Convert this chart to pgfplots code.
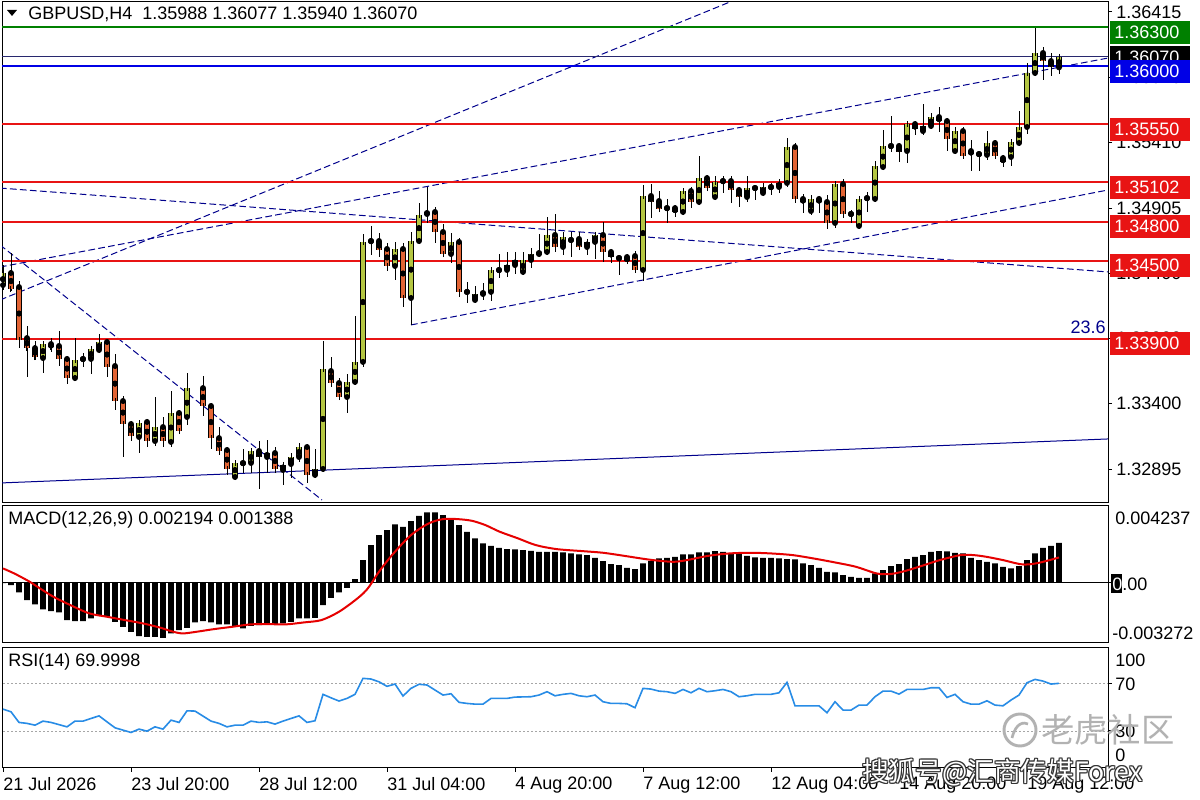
\documentclass[border=0pt]{standalone}
\usepackage{pgfplots}
\pgfplotsset{compat=1.18}
\usepackage{pgfplotstable}
\usepackage{fontspec}
\setmainfont{Liberation Sans}
\newfontfamily\cjk{Noto Sans CJK SC}
\definecolor{bull}{RGB}{180,198,66}
\definecolor{bear}{RGB}{226,100,52}
\definecolor{lvlred}{RGB}{232,20,20}
\definecolor{lvlgreen}{RGB}{0,128,0}
\definecolor{lvlblue}{RGB}{0,0,230}
\definecolor{navy}{RGB}{0,0,140}
\definecolor{bidline}{RGB}{40,40,110}
\definecolor{rsiblue}{RGB}{40,140,230}
\definecolor{macdred}{RGB}{230,0,0}
\newcommand\mtfont{\fontsize{13.5}{15}\selectfont}

\pgfplotstableread{
i O H L C
0 1.34312 1.34466 1.34274 1.34405
1 1.34405 1.34559 1.34266 1.34282
2 1.34297 1.34343 1.33827 1.33889
3 1.33904 1.33997 1.33604 1.33827
4 1.33827 1.33881 1.33735 1.33758
5 1.33750 1.33881 1.33635 1.33858
6 1.33858 1.33904 1.33797 1.33835
7 1.33843 1.33958 1.33689 1.33743
8 1.33743 1.33758 1.33550 1.33596
9 1.33596 1.33904 1.33581 1.33735
10 1.33743 1.33789 1.33681 1.33743
11 1.33743 1.33827 1.33627 1.33820
12 1.33812 1.33935 1.33797 1.33874
13 1.33874 1.33889 1.33604 1.33681
14 1.33689 1.33781 1.33350 1.33419
15 1.33419 1.33458 1.32988 1.33242
16 1.33242 1.33258 1.33111 1.33150
17 1.33142 1.33258 1.33019 1.33250
18 1.33258 1.33273 1.33065 1.33111
19 1.33111 1.33450 1.33073 1.33219
20 1.33219 1.33296 1.33065 1.33111
21 1.33104 1.33496 1.33065 1.33327
22 1.33327 1.33335 1.33173 1.33188
23 1.33296 1.33635 1.33235 1.33519
25 1.33519 1.33612 1.33304 1.33381
26 1.33381 1.33404 1.33050 1.33134
27 1.33134 1.33219 1.33004 1.33034
28 1.33042 1.33050 1.32850 1.32896
29 1.32834 1.32950 1.32826 1.32942
30 1.32942 1.33050 1.32865 1.32942
31 1.32942 1.33050 1.32865 1.33034
32 1.33034 1.33111 1.32742 1.32988
33 1.32988 1.33119 1.32865 1.33019
34 1.33019 1.33065 1.32865 1.32896
35 1.32888 1.32942 1.32773 1.32927
36 1.32934 1.33019 1.32826 1.32988
37 1.32988 1.33096 1.32950 1.33065
38 1.33065 1.33073 1.32788 1.32850
39 1.32850 1.33050 1.32826 1.32896
40 1.32896 1.33881 1.32880 1.33666
41 1.33650 1.33758 1.33527 1.33558
42 1.33558 1.33596 1.33427 1.33450
43 1.33450 1.33627 1.33327 1.33566
44 1.33566 1.34074 1.33550 1.33720
45 1.33720 1.34705 1.33681 1.34644
46 1.34651 1.34767 1.34544 1.34651
47 1.34651 1.34713 1.34528 1.34582
48 1.34590 1.34636 1.34420 1.34459
49 1.34459 1.34644 1.34351 1.34590
50 1.34590 1.34636 1.34143 1.34212
51 1.34212 1.34721 1.34005 1.34651
52 1.34651 1.34944 1.34636 1.34852
53 1.34859 1.35067 1.34790 1.34875
54 1.34875 1.34913 1.34636 1.34721
55 1.34721 1.34782 1.34528 1.34551
56 1.34551 1.34713 1.34482 1.34644
57 1.34644 1.34674 1.34220 1.34259
58 1.34259 1.34336 1.34174 1.34259
59 1.34197 1.34305 1.34182 1.34243
60 1.34243 1.34328 1.34197 1.34259
61 1.34259 1.34443 1.34189 1.34428
62 1.34428 1.34551 1.34366 1.34428
63 1.34428 1.34567 1.34374 1.34466
64 1.34466 1.34567 1.34397 1.34505
65 1.34413 1.34567 1.34390 1.34505
66 1.34505 1.34597 1.34443 1.34551
67 1.34551 1.34705 1.34528 1.34567
68 1.34567 1.34836 1.34551 1.34698
69 1.34698 1.34859 1.34567 1.34605
70 1.34605 1.34721 1.34544 1.34682
71 1.34659 1.34721 1.34528 1.34659
72 1.34667 1.34721 1.34582 1.34605
73 1.34605 1.34667 1.34544 1.34644
74 1.34644 1.34721 1.34513 1.34698
75 1.34698 1.34798 1.34490 1.34567
76 1.34567 1.34590 1.34482 1.34528
77 1.34520 1.34544 1.34390 1.34520
78 1.34528 1.34544 1.34490 1.34497
79 1.34536 1.34574 1.34420 1.34428
80 1.34428 1.35083 1.34343 1.34998
81 1.34998 1.35090 1.34828 1.34952
82 1.34959 1.35036 1.34890 1.34898
83 1.34905 1.34975 1.34790 1.34905
84 1.34905 1.34913 1.34836 1.34875
85 1.34875 1.35052 1.34852 1.35036
86 1.35036 1.35067 1.34905 1.34952
87 1.34952 1.35306 1.34936 1.35136
88 1.35136 1.35152 1.35044 1.35059
89 1.34990 1.35152 1.34975 1.35106
90 1.35113 1.35152 1.35021 1.35113
91 1.35113 1.35152 1.34944 1.35044
92 1.35044 1.35059 1.34913 1.34990
93 1.34990 1.35152 1.34952 1.35059
94 1.35059 1.35083 1.34967 1.35059
95 1.35021 1.35098 1.35006 1.35067
96 1.35067 1.35098 1.35006 1.35067
97 1.35067 1.35129 1.35021 1.35098
98 1.35098 1.35444 1.35067 1.35375
99 1.35375 1.35406 1.34944 1.34975
100 1.34975 1.35013 1.34867 1.34952
101 1.34882 1.35006 1.34852 1.34975
102 1.34975 1.34990 1.34867 1.34952
103 1.34952 1.35006 1.34744 1.34790
104 1.34790 1.35106 1.34751 1.35090
105 1.35090 1.35129 1.34828 1.34859
106 1.34859 1.34890 1.34790 1.34859
107 1.34767 1.34982 1.34759 1.34975
108 1.34982 1.35029 1.34875 1.34982
109 1.34975 1.35267 1.34967 1.35229
110 1.35221 1.35506 1.35198 1.35383
111 1.35383 1.35614 1.35337 1.35383
112 1.35383 1.35391 1.35260 1.35337
113 1.35344 1.35568 1.35252 1.35552
114 1.35552 1.35575 1.35468 1.35514
115 1.35498 1.35706 1.35468 1.35537
116 1.35537 1.35637 1.35521 1.35606
117 1.35606 1.35683 1.35491 1.35575
118 1.35575 1.35598 1.35344 1.35437
119 1.35344 1.35529 1.35337 1.35498
120 1.35498 1.35529 1.35298 1.35306
121 1.35344 1.35429 1.35190 1.35321
122 1.35321 1.35337 1.35190 1.35321
123 1.35314 1.35498 1.35275 1.35406
124 1.35406 1.35414 1.35283 1.35306
125 1.35290 1.35298 1.35221 1.35260
126 1.35298 1.35421 1.35229 1.35414
127 1.35406 1.35652 1.35398 1.35529
128 1.35529 1.36022 1.35475 1.35945
129 1.35945 1.36291 1.35937 1.36099
130 1.36099 1.36145 1.35891 1.36037
131 1.36037 1.36099 1.35922 1.35991
132 1.35988 1.36077 1.35940 1.36070
}\candles

\pgfplotstableread{
i v
0 -0.00002
1 -0.000126
2 -0.000528
3 -0.000948
4 -0.001184
5 -0.001458
6 -0.001551
7 -0.001622
8 -0.002044
9 -0.002099
10 -0.002099
11 -0.001951
12 -0.001808
13 -0.001863
14 -0.002137
15 -0.002411
16 -0.002685
17 -0.002921
18 -0.002959
19 -0.002959
20 -0.003014
21 -0.002773
22 -0.002592
23 -0.002466
24 -0.002170
25 -0.002099
26 -0.002170
27 -0.002280
28 -0.002280
29 -0.002411
30 -0.002499
31 -0.002356
32 -0.002318
33 -0.002280
34 -0.002280
35 -0.002225
36 -0.002137
37 -0.001951
38 -0.001951
39 -0.001916
40 -0.001222
41 -0.000822
42 -0.000528
43 -0.000274
44 0.000203
45 0.001244
46 0.002066
47 0.002614
48 0.002888
49 0.003200
50 0.003069
51 0.003381
52 0.003672
53 0.003858
54 0.003858
55 0.003710
56 0.003529
57 0.003162
58 0.002795
59 0.002433
60 0.002159
61 0.002028
62 0.001918
63 0.001847
64 0.001830
65 0.001792
66 0.001754
67 0.001700
68 0.001700
69 0.001700
70 0.001664
71 0.001609
72 0.001555
73 0.001518
74 0.001372
75 0.001189
76 0.001025
77 0.000970
78 0.000824
79 0.000751
80 0.001061
81 0.001189
82 0.001335
83 0.001372
84 0.001427
85 0.001555
86 0.001555
87 0.001664
88 0.001664
89 0.001737
90 0.001700
91 0.001609
92 0.001609
93 0.001481
94 0.001390
95 0.001372
96 0.001372
97 0.001335
98 0.001299
99 0.001281
100 0.001061
101 0.000970
102 0.000824
103 0.000605
104 0.000568
105 0.000422
106 0.000331
107 0.000276
108 0.000276
109 0.000513
110 0.000696
111 0.000915
112 0.001025
113 0.001299
114 0.001427
115 0.001518
116 0.001700
117 0.001737
118 0.001720
119 0.001646
120 0.001609
121 0.001372
122 0.001244
123 0.001153
124 0.001061
125 0.000879
126 0.000787
127 0.000915
128 0.001244
129 0.001609
130 0.001920
131 0.002029
132 0.002194
}\macd

\pgfplotstableread{
i s
0 0.000787
1.4 0.000513
3.2 0.000093
4.5 -0.000272
6.3 -0.000765
8.6 -0.001259
10.8 -0.001679
13 -0.001861
15.25 -0.002044
17.5 -0.002227
19.7 -0.002464
21 -0.002647
22.4 -0.002775
24.2 -0.002683
26.4 -0.002537
28.7 -0.002409
30.9 -0.002281
33.1 -0.002263
35.3 -0.002281
37.6 -0.002172
39.8 -0.002044
42 -0.001587
44.3 -0.000857
45.6 -0.000309
47 0.000605
48.7 0.001555
51 0.002614
53.2 0.003253
55 0.003491
56.8 0.003491
58.6 0.003399
60.3 0.003162
62.1 0.002797
64.4 0.002431
66.6 0.002066
69.2 0.001847
72.4 0.001737
75 0.001646
77.6 0.001481
80.3 0.001299
82.4 0.001189
84 0.001153
85.5 0.001244
88.2 0.001481
90.8 0.001609
93.4 0.001646
96 0.001609
98.7 0.001518
101.3 0.001335
104 0.001116
106.6 0.000879
109.2 0.000513
110.8 0.000477
112.4 0.000605
114.5 0.000879
117.1 0.001244
119.7 0.001518
121.3 0.001518
122.9 0.001427
125 0.001244
127.1 0.001025
128.2 0.001007
129.7 0.001116
132 0.001388
}\signal

\pgfplotstableread{
i r
0 48.4
1 46.2
2 37.3
3 36.5
4 35.0
5 38.4
6 37.3
8 33.6
9 38.4
10 38.4
12 42.8
13 37.8
14 32.8
16 28.9
17 31.7
18 30.0
19 33.6
20 31.7
21 39.2
22 37.3
23 47.0
24 46.8
26 38.4
27 36.5
28 33.6
29 35.0
30 35.0
31 38.4
32 37.3
33 37.8
34 35.9
35 38.4
37 42.8
38 37.3
39 38.7
40 60.8
41 57.9
42 55.2
43 57.4
44 60.8
45 74.2
46 73.6
47 71.3
48 67.5
49 69.4
50 59.4
51 65.8
52 69.2
53 68.6
54 64.4
55 60.2
56 61.3
57 54.1
58 53.2
59 52.6
60 52.6
61 57.4
63 57.4
64 58.5
66 58.8
67 60.2
68 63.0
69 59.6
70 60.8
71 61.6
72 59.6
73 58.8
74 60.2
75 54.6
76 53.2
77 53.2
78 52.9
79 49.6
80 65.8
81 65.2
82 63.5
83 63.0
84 61.6
85 64.9
86 62.1
87 65.8
88 63.0
89 63.8
90 64.9
91 63.0
92 58.8
93 59.6
94 60.8
95 60.8
96 60.8
97 62.1
98 70.8
99 51.2
100 51.2
102 51.2
103 45.4
104 54.6
105 47.6
106 47.6
107 51.8
108 51.8
109 58.8
110 63.5
111 63.5
112 61.0
113 64.9
114 64.9
115 64.9
116 66.3
117 66.3
118 58.2
119 60.8
120 54.6
121 52.6
122 52.6
123 55.4
124 51.8
125 51.2
126 56.0
127 60.2
128 70.5
129 73.3
130 71.9
131 69.4
132 70.0
}\rsi

\pgfplotsset{
  mtpanel/.style={
    anchor=south west, scale only axis, width=829.5pt,
    xmin=-0.125, xmax=138.125,
    axis line style={line width=0.75pt},
    tick style={black, line width=0.75pt},
    tick label style={font=\mtfont},
    scaled ticks=false,
  },
  navydash/.style={navy, line width=0.75pt, dash pattern=on 5pt off 2.5pt, forget plot},
}

\begin{document}
\begin{tikzpicture}
\useasboundingbox (0,0) rectangle (900pt,600pt);
\fill[white] (0,0) rectangle (900pt,600pt);

% ---------------- main price panel ----------------
\begin{axis}[mtpanel,
  at={(1.5pt,222.75pt)}, height=375.75pt,
  ymin=1.326339, ymax=1.364916,
  xtick=\empty,
  ytick={1.36415,1.35910,1.35410,1.34905,1.34400,1.33900,1.33400,1.32895},
  yticklabels={1.36415,1.35910,1.35410,1.34905,1.34400,1.33900,1.33400,1.32895},
  ytick pos=right, yticklabel pos=right,
  tick align=outside, major tick length=3pt,
  yticklabel style={anchor=west, inner sep=0pt, xshift=3pt},
]
% trend lines
\addplot[navydash] coordinates {(-0.375,1.34197) (90.875,1.36492)};
\addplot[navydash] coordinates {(-0.375,1.34451) (138.125,1.36060)};
\addplot[navydash] coordinates {(-0.375,1.34621) (39.875,1.32657)};
\addplot[navydash] coordinates {(-0.375,1.35059) (138.125,1.34413)};
\addplot[navydash] coordinates {(51,1.34005) (138.125,1.35044)};
\addplot[navy, line width=0.75pt, forget plot] coordinates {(-0.375,1.32788) (138.125,1.33127)};
% horizontal levels
\addplot[navy, line width=0.75pt, forget plot] coordinates {(-1,1.33889) (140,1.33889)};
\addplot[lvlred, line width=1.5pt, forget plot] coordinates {(-1,1.33900) (140,1.33900)};
\addplot[lvlred, line width=1.5pt, forget plot] coordinates {(-1,1.34500) (140,1.34500)};
\addplot[lvlred, line width=1.5pt, forget plot] coordinates {(-1,1.34800) (140,1.34800)};
\addplot[lvlred, line width=1.5pt, forget plot] coordinates {(-1,1.35102) (140,1.35102)};
\addplot[lvlred, line width=1.5pt, forget plot] coordinates {(-1,1.35550) (140,1.35550)};
\addplot[lvlgreen, line width=1.2pt, forget plot] coordinates {(-1,1.36300) (140,1.36300)};
\addplot[bidline, line width=0.6pt, forget plot] coordinates {(-1,1.36070) (140,1.36070)};
\addplot[lvlblue, line width=1.2pt, forget plot] coordinates {(-1,1.36000) (140,1.36000)};
% wicks
\addplot[only marks, mark=none, forget plot,
  error bars/.cd, y dir=both, y explicit, error mark=none,
  error bar style={black, line width=0.75pt}]
  table[x=i, y=O, y error plus expr=\thisrow{H}-\thisrow{O}, y error minus expr=\thisrow{O}-\thisrow{L}] {\candles};
% body outline
\addplot[only marks, mark=none, forget plot,
  error bars/.cd, y dir=both, y explicit, error mark=none,
  error bar style={black, line width=4.5pt}]
  table[x=i, y expr=(\thisrow{O}+\thisrow{C})/2, y error expr=abs(\thisrow{C}-\thisrow{O})/2] {\candles};
% bull bodies
\addplot[only marks, mark=none, forget plot,
  restrict expr to domain={\thisrow{C}-\thisrow{O}}{0:1},
  error bars/.cd, y dir=both, y explicit, error mark=-,
  error bar style={bull, line width=3pt},
  error mark options={black, line width=0.75pt, mark size=2.25pt}]
  table[x=i, y expr=(\thisrow{O}+\thisrow{C})/2, y error expr=abs(\thisrow{C}-\thisrow{O})/2] {\candles};
% bear bodies
\addplot[only marks, mark=none, forget plot,
  restrict expr to domain={\thisrow{C}-\thisrow{O}}{-1:-0.000001},
  error bars/.cd, y dir=both, y explicit, error mark=-,
  error bar style={bear, line width=3pt},
  error mark options={black, line width=0.75pt, mark size=2.25pt}]
  table[x=i, y expr=(\thisrow{O}+\thisrow{C})/2, y error expr=abs(\thisrow{C}-\thisrow{O})/2] {\candles};
\end{axis}

% ---------------- MACD panel ----------------
\begin{axis}[mtpanel,
  at={(1.5pt,118.125pt)}, height=102.75pt,
  ymin=-0.003272, ymax=0.004237,
  xtick=\empty, ytick=\empty,
]
\addplot[black, line width=0.75pt, forget plot] coordinates {(-1,0) (140,0)};
\addplot[ybar, bar width=4.4pt, bar shift=0pt, fill=black, draw=none, forget plot] table[x=i, y=v] {\macd};
\addplot[macdred, line width=1.5pt, smooth, forget plot] table[x=i, y=s] {\signal};
\end{axis}

% ---------------- RSI panel ----------------
\begin{axis}[mtpanel,
  at={(1.5pt,24.75pt)}, height=89.625pt,
  ymin=0, ymax=100,
  ytick=\empty,
  xtick={0,16,32,48,64,80,96,112,128},
  xticklabels={21 Jul 2026,23 Jul 20:00,28 Jul 12:00,31 Jul 04:00,4 Aug 20:00,7 Aug 12:00,12 Aug 04:00,14 Aug 20:00,19 Aug 12:00},
  xtick pos=left, tick align=outside, major tick length=3.5pt,
  xticklabel style={anchor=north west, inner sep=0pt, yshift=-4pt},
]
\addplot[black!35, line width=0.6pt, dash pattern=on 1.5pt off 1.5pt, forget plot] coordinates {(-1,70) (140,70)};
\addplot[black!35, line width=0.6pt, dash pattern=on 1.5pt off 1.5pt, forget plot] coordinates {(-1,30) (140,30)};
\addplot[rsiblue, line width=1.2pt, forget plot] table[x=i, y=r] {\rsi};
\end{axis}

% ---------------- annotations (pixel coordinates) ----------------
\begin{scope}[x=0.75pt, y=-0.75pt, shift={(0pt,600pt)}]
  \fill[black] (7,10) -- (17,10) -- (12,16) -- cycle;
  \node[anchor=west, inner sep=0pt, font=\mtfont] at (28,14.5) {GBPUSD,H4\ \ 1.35988 1.36077 1.35940 1.36070};
  \node[anchor=west, inner sep=0pt, font=\mtfont] at (8,520) {MACD(12,26,9) 0.002194 0.001388};
  \node[anchor=west, inner sep=0pt, font=\mtfont] at (8,662) {RSI(14) 69.9998};
  \node[anchor=east, inner sep=0pt, font=\mtfont, text=navy] at (1106,327) {23.6};
  \fill[black] (1110,46) rectangle (1190,68);
  \node[anchor=west, inner sep=0pt, font=\mtfont, text=white] at (1114,57) {1.36070};
  \fill[lvlgreen] (1110,21) rectangle (1190,44);
  \node[anchor=west, inner sep=0pt, font=\mtfont, text=white] at (1114,32.5) {1.36300};
  \fill[lvlblue] (1110,60) rectangle (1190,83);
  \node[anchor=west, inner sep=0pt, font=\mtfont, text=white] at (1114,71.5) {1.36000};
  \fill[lvlred] (1110,118) rectangle (1190,141);
  \node[anchor=west, inner sep=0pt, font=\mtfont, text=white] at (1114,129.5) {1.35550};
  \fill[lvlred] (1110,176) rectangle (1190,199);
  \node[anchor=west, inner sep=0pt, font=\mtfont, text=white] at (1114,187.5) {1.35102};
  \fill[lvlred] (1110,215) rectangle (1190,238);
  \node[anchor=west, inner sep=0pt, font=\mtfont, text=white] at (1114,226.5) {1.34800};
  \fill[lvlred] (1110,254) rectangle (1190,277);
  \node[anchor=west, inner sep=0pt, font=\mtfont, text=white] at (1114,265.5) {1.34500};
  \fill[lvlred] (1110,332) rectangle (1190,355);
  \node[anchor=west, inner sep=0pt, font=\mtfont, text=white] at (1114,343.5) {1.33900};
  \node[anchor=west, inner sep=0pt, font=\mtfont] at (1115,518) {0.004237};
  \fill[black] (1111,574) rectangle (1122,593);
  \node[anchor=west, inner sep=0pt, font=\mtfont] at (1112,584) {\textcolor{white}{0}.00};
  \node[anchor=west, inner sep=0pt, font=\mtfont] at (1112,633) {-0.003272};
  \draw[line width=0.75pt] (1108,583) -- (1112,583);
  \node[anchor=west, inner sep=0pt, font=\mtfont] at (1115,660) {100};
  \node[anchor=west, inner sep=0pt, font=\mtfont] at (1115,684) {70};
  \node[anchor=west, inner sep=0pt, font=\mtfont] at (1115,731) {30};
  \node[anchor=west, inner sep=0pt, font=\mtfont] at (1115,755) {0};
  \draw[line width=0.75pt] (1108,683.3) -- (1112,683.3);
  \draw[line width=0.75pt] (1108,731) -- (1112,731);
  \draw[black!30, line width=2.2pt] (1020,730) circle[radius=16];
  \draw[black!30, line width=2pt] (1012,738) .. controls (1016,722) and (1024,722) .. (1028,724);
  \node[anchor=west, inner sep=0pt, font=\cjk\fontsize{25}{25}\selectfont, text=black!30] at (1041,730) {老虎社区};
  \foreach \dx/\dy in {-1/0,1/0,0/-1,0/1,-1/-1,1/1,-1/1,1/-1} {
    \node[anchor=west, inner sep=0pt, font=\cjk\fontsize{20}{20}\selectfont, text=black!80] at (862+\dx,773+\dy) {搜狐号@汇商传媒Forex};
  }
  \node[anchor=west, inner sep=0pt, font=\cjk\fontsize{20}{20}\selectfont, text=white] at (862,773) {搜狐号@汇商传媒Forex};
\end{scope}
\end{tikzpicture}
\end{document}
